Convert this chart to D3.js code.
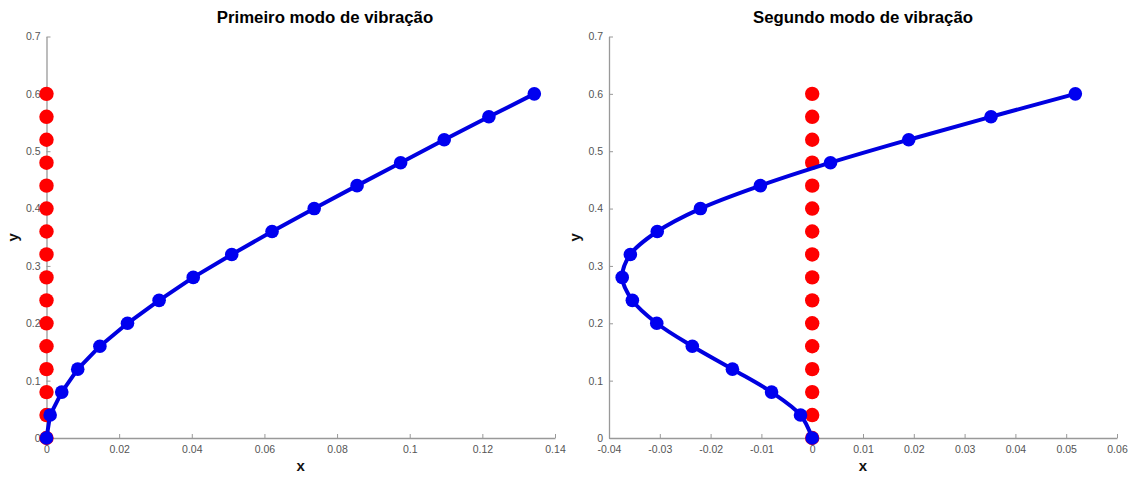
<!DOCTYPE html>
<html>
<head>
<meta charset="utf-8">
<script src="https://cdn.jsdelivr.net/npm/d3@7"></script>
<style>
  html, body { margin: 0; padding: 0; background: #fff; }
  svg { display: block; font-family: "Liberation Sans", Arial, sans-serif; }
</style>
</head>
<body>
<svg id="chart" width="1137" height="479"></svg>
<script>
// Node heights along the column (m)
const heights = [0, 0.04, 0.08, 0.12, 0.16, 0.2, 0.24, 0.28, 0.32, 0.36, 0.4, 0.44, 0.48, 0.52, 0.56, 0.6];
// Undeformed position (x = 0 for every node)
const restX = [0, 0, 0, 0, 0, 0, 0, 0, 0, 0, 0, 0, 0, 0, 0, 0];
// Modal displacements
const mode1X = [0, 0.001, 0.0042, 0.0086, 0.0147, 0.0223, 0.031, 0.0404, 0.051, 0.0621, 0.0737, 0.0855, 0.0975, 0.1095, 0.1218, 0.1343];
const mode2X = [0, -0.0023, -0.0080, -0.0157, -0.0236, -0.0306, -0.0354, -0.0374, -0.0358, -0.0305, -0.0220, -0.0102, 0.0036, 0.0190, 0.0352, 0.0518];

const yTicks = [0, 0.1, 0.2, 0.3, 0.4, 0.5, 0.6, 0.7];
const xTicks1 = [0, 0.02, 0.04, 0.06, 0.08, 0.1, 0.12, 0.14];
const xTicks2 = [-0.04, -0.03, -0.02, -0.01, 0, 0.01, 0.02, 0.03, 0.04, 0.05, 0.06];

const titles = ["Primeiro modo de vibração", "Segundo modo de vibração"];

const svg = d3.select("#chart");

const panels = [
  { title: titles[0], titleX: 325, xs: mode1X, xDomain: [0, 0.14], xTicks: xTicks1, left: 46.5, right: 555, smooth: false },
  { title: titles[1], titleX: 863, xs: mode2X, xDomain: [-0.04, 0.06], xTicks: xTicks2, left: 609, right: 1117, smooth: true }
];

const plotTop = 36.5, plotBottom = 438;
const fmt = d => (d === 0 ? "0" : String(+d.toFixed(3)));

panels.forEach(p => {
  const x = d3.scaleLinear().domain(p.xDomain).range([p.left, p.right]);
  const y = d3.scaleLinear().domain([0, 0.7]).range([plotBottom, plotTop]);
  const g = svg.append("g");

  // axes (left + bottom only, ticks pointing inward)
  const xAxis = d3.axisBottom(x).tickValues(p.xTicks).tickFormat(fmt).tickSizeInner(-4).tickSizeOuter(0).tickPadding(8);
  const yAxis = d3.axisLeft(y).tickValues(yTicks).tickFormat(fmt).tickSizeInner(-4).tickSizeOuter(0).tickPadding(6);

  const gx = g.append("g").attr("transform", `translate(0,${plotBottom})`).call(xAxis);
  const gy = g.append("g").attr("transform", `translate(${p.left},0)`).call(yAxis);
  [gx, gy].forEach(a => {
    a.select(".domain").attr("stroke", "#999").attr("stroke-width", 1.3);
    a.selectAll(".tick line").attr("stroke", "#999").attr("stroke-width", 1);
    a.selectAll(".tick text").attr("fill", "#555").attr("font-size", 10.5);
  });

  // title and axis labels
  g.append("text")
    .attr("x", p.titleX).attr("y", 23)
    .attr("text-anchor", "middle").attr("font-weight", "bold").attr("font-size", 16.8)
    .attr("fill", "#000").text(p.title);
  g.append("text")
    .attr("x", (p.left + p.right) / 2).attr("y", 471)
    .attr("text-anchor", "middle").attr("font-weight", "bold").attr("font-size", 15)
    .attr("fill", "#111").text("x");
  g.append("text")
    .attr("transform", `translate(${p.left - 29},${(plotTop + plotBottom) / 2}) rotate(-90)`)
    .attr("text-anchor", "middle").attr("font-weight", "bold").attr("font-size", 15)
    .attr("fill", "#111").text("y");

  // undeformed column
  g.append("g").selectAll("circle")
    .data(heights.map((h, i) => [restX[i], h]))
    .join("circle")
    .attr("cx", d => x(d[0])).attr("cy", d => y(d[1]))
    .attr("r", 7.2).attr("fill", "#f00");

  // mode shape
  const pts = heights.map((h, i) => [p.xs[i], h]);
  const line = d3.line()
    .x(d => x(d[0])).y(d => y(d[1]))
    .curve(p.smooth ? d3.curveCatmullRom.alpha(0.5) : d3.curveLinear);
  g.append("path").datum(pts)
    .attr("d", line).attr("fill", "none")
    .attr("stroke", "#0000e0").attr("stroke-width", 4).attr("stroke-linejoin", "round");
  g.append("g").selectAll("circle")
    .data(pts)
    .join("circle")
    .attr("cx", d => x(d[0])).attr("cy", d => y(d[1]))
    .attr("r", 6.8).attr("fill", "#0000f0");
});
</script>
</body>
</html>
